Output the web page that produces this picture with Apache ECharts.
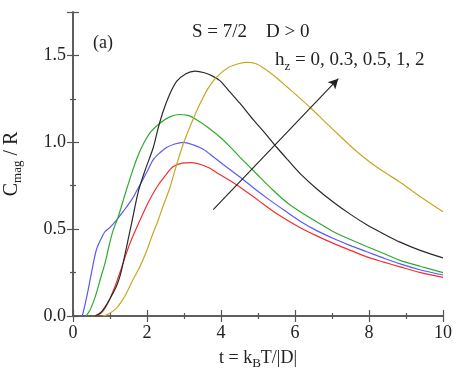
<!DOCTYPE html>
<html>
<head>
<meta charset="utf-8">
<script src="https://cdn.jsdelivr.net/npm/echarts@6/dist/echarts.min.js"></script>
<style>
  html, body { margin: 0; padding: 0; background: #fff; }
  #main { width: 457px; height: 384px; }
</style>
</head>
<body>
<div id="main"></div>
<script>
// [t, Cmag/R], one array per field value
var h0 = [[0.62,0],[0.75,0.015],[0.86,0.044],[1.0,0.10],[1.17,0.19],[1.3,0.27],[1.44,0.36],[1.6,0.45],[1.85,0.57],[2.05,0.66],[2.26,0.74],[2.5,0.81],[2.71,0.86],[2.95,0.88],[3.2,0.883],[3.45,0.872],[3.7,0.85],[4.0,0.81],[4.24,0.78],[4.51,0.743],[5.0,0.667],[5.5,0.59],[6.14,0.508],[6.6,0.46],[7.04,0.418],[7.5,0.378],[7.94,0.34],[8.4,0.31],[8.84,0.283],[9.4,0.25],[10,0.222]];
var h03 = [[0.25,0],[0.33,0.07],[0.41,0.15],[0.5,0.25],[0.63,0.38],[0.75,0.44],[0.86,0.485],[1.0,0.51],[1.17,0.55],[1.35,0.6],[1.58,0.667],[1.72,0.72],[1.85,0.77],[2.0,0.83],[2.17,0.90],[2.35,0.94],[2.53,0.97],[2.75,0.99],[2.98,1.0],[3.25,0.985],[3.52,0.96],[3.8,0.915],[4.06,0.872],[4.24,0.843],[4.51,0.80],[4.96,0.724],[5.32,0.667],[5.7,0.61],[6.14,0.546],[6.6,0.49],[7.04,0.446],[7.5,0.405],[7.94,0.37],[8.4,0.333],[8.84,0.30],[9.4,0.265],[10,0.236]];
var h05 = [[0.35,0],[0.45,0.03],[0.55,0.08],[0.63,0.13],[0.75,0.22],[0.86,0.30],[0.97,0.40],[1.08,0.49],[1.22,0.57],[1.35,0.66],[1.45,0.73],[1.6,0.83],[1.75,0.92],[1.9,0.99],[2.1,1.06],[2.35,1.11],[2.6,1.145],[2.85,1.16],[3.1,1.155],[3.34,1.13],[3.65,1.085],[3.97,1.03],[4.24,0.975],[4.51,0.915],[5.0,0.81],[5.41,0.724],[5.8,0.65],[6.14,0.60],[6.6,0.54],[7.04,0.485],[7.5,0.44],[7.94,0.40],[8.4,0.36],[8.84,0.32],[9.4,0.285],[10,0.25]];
var h1 = [[0.6,0],[0.75,0.02],[0.9,0.063],[1.05,0.12],[1.17,0.17],[1.27,0.23],[1.35,0.30],[1.47,0.42],[1.58,0.53],[1.77,0.72],[1.95,0.84],[2.17,0.97],[2.3,1.08],[2.44,1.18],[2.6,1.27],[2.8,1.35],[3.05,1.395],[3.3,1.41],[3.55,1.40],[3.8,1.378],[3.97,1.355],[4.1,1.325],[4.24,1.29],[4.51,1.225],[4.87,1.13],[5.2,1.05],[5.51,0.97],[5.8,0.90],[6.14,0.82],[6.6,0.73],[7.04,0.655],[7.5,0.585],[7.94,0.525],[8.4,0.472],[8.84,0.425],[9.4,0.376],[10,0.335]];
var h2 = [[0.8,0],[0.95,0.01],[1.17,0.044],[1.3,0.08],[1.44,0.13],[1.6,0.20],[1.8,0.28],[2.0,0.38],[2.16,0.475],[2.3,0.55],[2.43,0.63],[2.62,0.74],[2.8,0.87],[2.98,0.99],[3.2,1.11],[3.43,1.22],[3.65,1.31],[3.88,1.375],[4.2,1.43],[4.47,1.452],[4.7,1.46],[4.95,1.452],[5.2,1.42],[5.45,1.38],[5.78,1.32],[6.1,1.26],[6.41,1.20],[6.8,1.12],[7.22,1.035],[7.6,0.96],[8.03,0.885],[8.4,0.83],[8.84,0.77],[9.4,0.685],[10,0.60]];

// arrow through the curves (data units)
var arrowFrom = [3.79, 0.613];
var arrowTo = [7.17, 1.366];

var font = 'Liberation Serif';
var axisCol = '#555';

var myChart = echarts.init(document.getElementById('main'));

function curve(name, data, color) {
  return {
    name: name,
    type: 'line',
    data: data,
    symbol: 'none',
    smooth: 0.3,
    lineStyle: { color: color, width: 1.2 },
    silent: true
  };
}

var boxAxis = function (extra) {
  return Object.assign({
    type: 'value',
    axisLine: { show: true, lineStyle: { color: axisCol, width: 1.5 } },
    axisTick: { show: true, inside: true, length: 6, lineStyle: { color: axisCol, width: 1.2 } },
    minorTick: { show: true, splitNumber: 2, length: 3, lineStyle: { color: axisCol, width: 1.2 } },
    splitLine: { show: false }
  }, extra);
};

var option = {
  animation: false,
  grid: { left: 73, right: 14, top: 12, bottom: 68, containLabel: false, outerBoundsMode: 'none' },
  xAxis: [
    boxAxis({
      min: 0, max: 10, interval: 2,
      axisLabel: { fontFamily: font, fontSize: 18, color: '#222', margin: 8 },
      name: 't = k{sub|B}T/|D|',
      nameLocation: 'middle',
      nameGap: 31,
      nameTextStyle: {
        fontFamily: font, fontSize: 18, color: '#222',
        rich: { sub: { fontFamily: font, fontSize: 13, color: '#222', padding: [10, 0, 0, 0] } }
      }
    }),
    boxAxis({ min: 0, max: 10, interval: 2, position: 'top', axisLabel: { show: false } })
  ],
  yAxis: [
    boxAxis({
      min: 0, max: 1.75, interval: 0.5,
      axisLabel: {
        fontFamily: font, fontSize: 18, color: '#222', margin: 7,
        formatter: function (v) { return Math.abs(v * 2 - Math.round(v * 2)) < 1e-6 ? v.toFixed(1) : ''; }
      },
      name: 'C{sub|mag} / R',
      nameLocation: 'middle',
      nameGap: 49,
      nameRotate: 90,
      nameTextStyle: {
        fontFamily: font, fontSize: 20, color: '#222',
        rich: { sub: { fontFamily: font, fontSize: 13, color: '#222', padding: [12, 0, 0, 0] } }
      }
    }),
    boxAxis({ min: 0, max: 1.75, interval: 0.5, position: 'right', axisLabel: { show: false } })
  ],
  series: [
    curve('0', h0, '#f03030'),
    curve('0.3', h03, '#5a5af5'),
    curve('0.5', h05, '#30aa30'),
    curve('1', h1, '#2a2a2a'),
    curve('2', h2, '#c8a820'),
    {
      type: 'line',
      data: [],
      markLine: {
        silent: true,
        symbol: ['none', 'arrow'],
        symbolSize: [8, 10],
        label: { show: false },
        lineStyle: { color: '#222', width: 1.1, type: 'solid' },
        data: [[{ coord: arrowFrom }, { coord: arrowTo }]]
      }
    }
  ],
  graphic: [
    { type: 'text', left: 93, top: 34, style: { text: '(a)', font: '18px "Liberation Serif"', fill: '#222' } },
    { type: 'text', left: 192, top: 23, style: { text: 'S = 7/2    D > 0', font: '19px "Liberation Serif"', fill: '#222' } },
    {
      type: 'text', left: 275, top: 51,
      style: {
        text: 'h{sub|z} = 0, 0.3, 0.5, 1, 2',
        font: '19px "Liberation Serif"', fill: '#222',
        rich: { sub: { fontFamily: font, fontSize: 13, fill: '#222', padding: [12, 0, 0, 0] } }
      }
    }
  ]
};
myChart.setOption(option);
</script>
</body>
</html>
